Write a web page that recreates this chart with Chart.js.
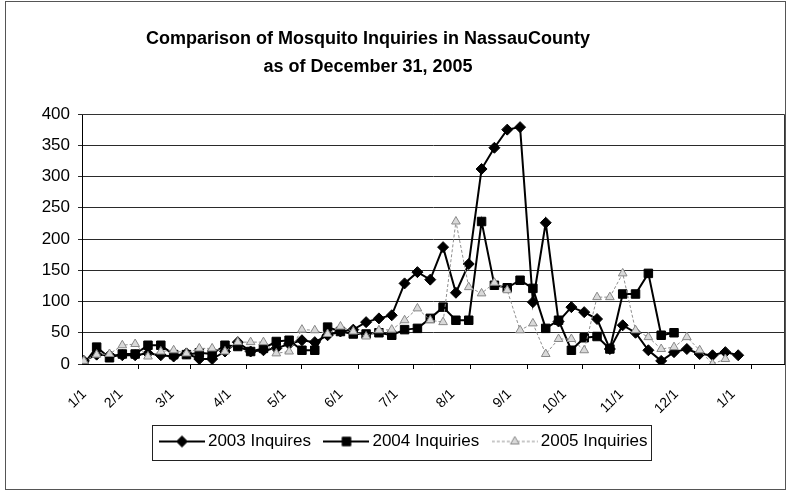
<!DOCTYPE html>
<html>
<head>
<meta charset="utf-8">
<script src="https://cdn.jsdelivr.net/npm/chart.js@4/dist/chart.umd.min.js"></script>
<style>
html,body{margin:0;padding:0;background:#fff;}
#wrap{position:relative;width:791px;height:494px;}
</style>
</head>
<body>
<div id="wrap"><canvas id="c"></canvas></div>
<script>
// ---- data (weekly, week-ending Sundays, mapped onto one calendar year) ----
const weekDates = ['1/2','1/9','1/16','1/23','1/30','2/6','2/13','2/20','2/27','3/6','3/13','3/20','3/27',
  '4/3','4/10','4/17','4/24','5/1','5/8','5/15','5/22','5/29','6/5','6/12','6/19','6/26',
  '7/3','7/10','7/17','7/24','7/31','8/7','8/14','8/21','8/28','9/4','9/11','9/18','9/25',
  '10/2','10/9','10/16','10/23','10/30','11/6','11/13','11/20','11/27','12/4','12/11','12/18','12/25'];

const inquiries2003 = [5, 15, 14, 14, 14, 17, 14, 12, 17, 8, 8, 20, 35, 20, 22, 25, 32, 38, 35, 46, 52, 55,
  67, 73, 78, 129, 147, 135, 187, 114, 160, 312, 346, 375, 379, 99, 226, 68, 91, 83, 72, 24, 62, 50,
  22, 5, 19, 24, 16, 14, 19, 14];

const inquiries2004 = [0, 27, 10, 16, 16, 30, 30, 15, 15, 18, 16, 30, 28, 20, 25, 36, 38, 22, 22, 59, 52, 48,
  48, 50, 46, 55, 57, 73, 91, 70, 70, 228, 126, 122, 134, 121, 57, 70, 22, 42, 44, 24, 112, 112, 145, 46, 50];

const inquiries2005 = [5, 15, 16, 30, 32, 12, 20, 22, 17, 25, 25, 20, 35, 35, 35, 17, 20, 55, 54, 48, 60, 52,
  44, 54, 55, 70, 89, 70, 67, 228, 123, 113, 130, 118, 54, 65, 16, 40, 40, 22, 107, 107, 145, 54, 43,
  24, 27, 43, 22, 0, 8];

const seriesNames = ['2003 Inquires', '2004 Inquiries', '2005 Inquiries'];
const tickLabels = ['1/1','2/1','3/1','4/1','5/1','6/1','7/1','8/1','9/1','10/1','11/1','12/1','1/1'];
const yTicks = [0, 50, 100, 150, 200, 250, 300, 350, 400];

// ---- helpers ----
const BASE = Date.UTC(2005, 0, 1);
function dayFromMD(md, year) {
  const [m, d] = md.split('/').map(Number);
  return (Date.UTC(year, m - 1, d) - BASE) / 86400000;
}
const weekDays = weekDates.map(md => dayFromMD(md, 2005));
const tickDays = (() => {
  let year = 2005, prev = 0;
  return tickLabels.map(md => {
    const m = Number(md.split('/')[0]);
    if (m < prev) year++;
    prev = m;
    return dayFromMD(md, year);
  });
})();
const toPoints = vals => vals.map((v, i) => ({x: weekDays[i], y: v}));

const FONT = "'Liberation Sans', Arial, Helvetica, sans-serif";

function legendSymbol(style) {
  const c = document.createElement('canvas');
  c.width = 46; c.height = 14;
  const g = c.getContext('2d');
  g.strokeStyle = style.line; g.lineWidth = style.lineWidth;
  g.setLineDash(style.dash || []);
  g.beginPath(); g.moveTo(0, 7); g.lineTo(46, 7); g.stroke();
  g.setLineDash([]);
  g.fillStyle = style.fill; g.strokeStyle = style.edge; g.lineWidth = 1;
  Chart.helpers.drawPoint(g, {pointStyle: style.point, radius: style.radius, borderWidth: 1, rotation: 0}, 23, 7);
  return c;
}

const styles = [
  {line: '#000', lineWidth: 2, point: 'rectRot', radius: 5.5, fill: '#000', edge: '#000'},
  {line: '#000', lineWidth: 2, point: 'rect', radius: 6, fill: '#000', edge: '#000'},
  {line: '#8f8f8f', lineWidth: 1, dash: [3, 2], point: 'triangle', radius: 5, fill: '#d9d9d9', edge: '#888'}
];
const symbols = styles.map(legendSymbol);

const seriesValues = [inquiries2003, inquiries2004, inquiries2005];
const datasets = seriesValues.map((vals, i) => ({
  label: seriesNames[i],
  data: toPoints(vals),
  borderColor: styles[i].line,
  borderWidth: styles[i].lineWidth,
  borderDash: styles[i].dash || [],
  pointStyle: styles[i].point,
  pointRadius: styles[i].radius,
  pointBackgroundColor: styles[i].fill,
  pointBorderColor: styles[i].edge,
  pointBorderWidth: 1,
  tension: 0,
  fill: false,
  order: 3 - i
}));

const tweaks = {
  id: 'tweaks',
  afterLayout(chart) {
    const t = chart.titleBlock;
    if (t) { t.left -= 24; t.right -= 24; }
    const l = chart.legend;
    if (l) { l.left += 14; l.right += 14; }
  },
  beforeDraw(chart) {
    const {ctx, width, height} = chart;
    ctx.save();
    ctx.strokeStyle = '#555';
    ctx.lineWidth = 1;
    ctx.strokeRect(5.5, 1.5, width - 11, height - 6);
    ctx.restore();
  },
  beforeDatasetsDraw(chart) {
    const {ctx, chartArea: a} = chart;
    ctx.save();
    ctx.strokeStyle = '#333';
    ctx.lineWidth = 1;
    ctx.beginPath();
    ctx.moveTo(a.left, Math.round(a.top) + 0.5);
    ctx.lineTo(Math.round(a.right) + 0.5, Math.round(a.top) + 0.5);
    ctx.lineTo(Math.round(a.right) + 0.5, a.bottom);
    ctx.stroke();
    ctx.restore();
  },
  afterDraw(chart) {
    const {ctx} = chart;
    const l = chart.legend;
    const p = l.options.labels.padding;
    const fs = l.options.labels.font.size;
    const start = (l.left + p + l.right - l.lineWidths[0]) / 2;
    const end = start + l.lineWidths[0] - p;
    const mid = l.top + p + fs / 2;
    ctx.save();
    ctx.strokeStyle = '#222';
    ctx.lineWidth = 1;
    ctx.strokeRect(Math.round(start - 12) + 0.5, Math.round(mid - 17) + 0.5, Math.round(end - start + 16), 35);
    ctx.restore();
  }
};

new Chart(document.getElementById('c'), {
  type: 'line',
  data: {datasets},
  plugins: [tweaks],
  options: {
    responsive: true,
    maintainAspectRatio: false,
    animation: false,
    devicePixelRatio: 1,
    layout: {padding: {left: 0, right: 7, top: 0, bottom: 34}},
    plugins: {
      title: {
        display: true,
        text: ['Comparison of Mosquito Inquiries in NassauCounty', 'as of December 31, 2005'],
        color: '#000',
        font: {family: FONT, size: 18, weight: 'bold', lineHeight: 28 / 18},
        padding: {top: 25, bottom: 33}
      },
      legend: {
        display: true,
        position: 'bottom',
        labels: {
          usePointStyle: true,
          pointStyleWidth: 35,
          padding: 18,
          color: '#000',
          font: {family: FONT, size: 17},
          generateLabels(chart) {
            return chart.data.datasets.map((ds, i) => ({
              text: ds.label,
              pointStyle: symbols[i],
              fillStyle: 'transparent',
              strokeStyle: 'transparent',
              lineWidth: 0,
              hidden: false,
              datasetIndex: i,
              fontColor: '#000'
            }));
          }
        }
      },
      tooltip: {enabled: false}
    },
    scales: {
      x: {
        type: 'linear',
        min: 0,
        max: 383,
        afterBuildTicks(scale) {
          // first label sits a little right of the axis origin, as in the reference
          scale.ticks = tickDays.map((v, i) => ({value: i === 0 ? v + 11 : v}));
        },
        afterFit(scale) { scale.height = 51; },
        ticks: {
          autoSkip: false,
          minRotation: 45,
          maxRotation: 45,
          labelOffset: -18,
          padding: 17,
          color: '#000',
          font: {family: FONT, size: 14},
          callback(value, index) { return tickLabels[index]; }
        },
        grid: {
          drawOnChartArea: false,
          drawTicks: true,
          tickLength: 5,
          color: '#000',
          tickColor: ctx => (ctx.index === 0 ? 'rgba(0,0,0,0)' : '#000')
        },
        border: {display: true, color: '#000', width: 1}
      },
      y: {
        min: 0,
        max: 400,
        afterBuildTicks(scale) { scale.ticks = yTicks.map(v => ({value: v})); },
        afterFit(scale) { scale.width = 82; },
        ticks: {
          padding: 8,
          color: '#000',
          font: {family: FONT, size: 17}
        },
        grid: {color: '#2a2a2a', lineWidth: 1, tickLength: 4},
        border: {display: true, color: '#000', width: 1}
      }
    }
  }
});
</script>
</body>
</html>
